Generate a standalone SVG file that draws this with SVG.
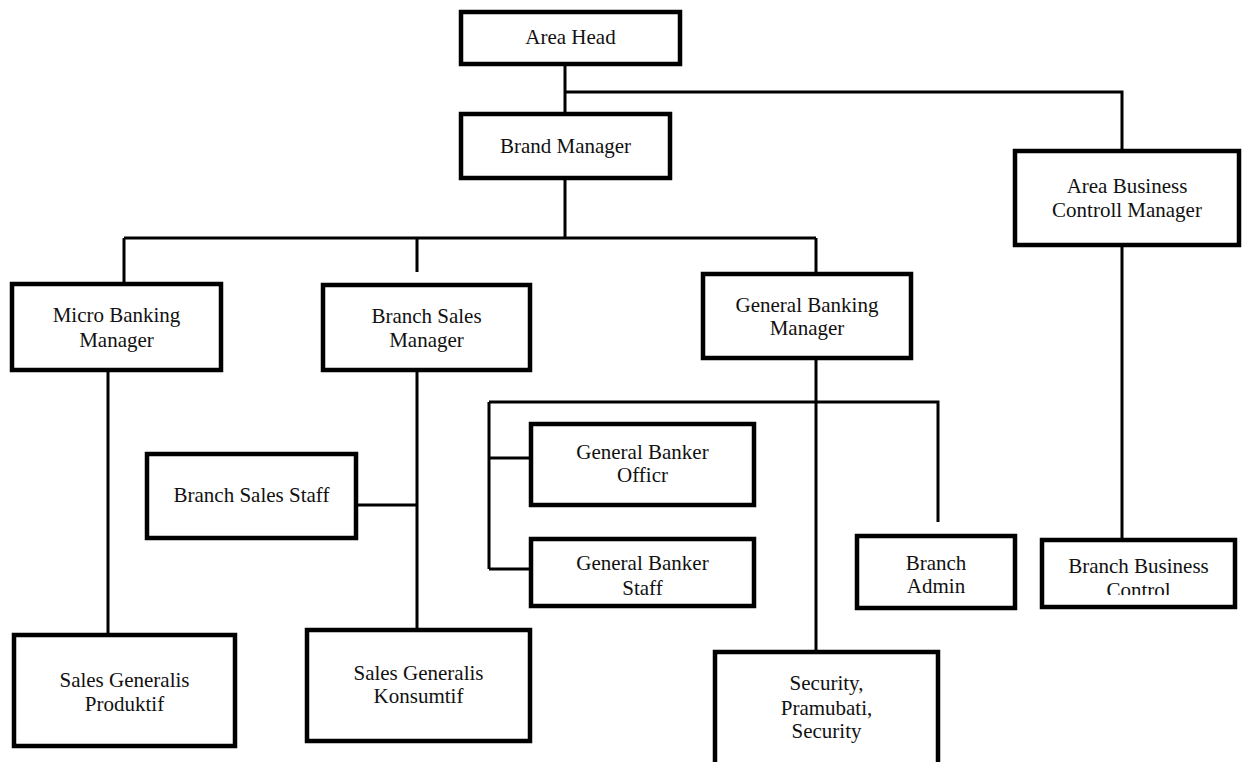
<svg xmlns="http://www.w3.org/2000/svg" width="1246" height="762" viewBox="0 0 1246 762">
<style>
.box{fill:#fff;stroke:#000;stroke-width:4.5}
.t{font-family:"Liberation Serif","Times New Roman",serif;font-size:21px;fill:#111;text-anchor:middle}
.c{stroke:#000;stroke-width:3;fill:none}
</style>
<defs>
<clipPath id="clipStaff"><rect x="531" y="539" width="223" height="56"/></clipPath>
<clipPath id="clipControl"><rect x="1042" y="540" width="193" height="55"/></clipPath>
</defs>
<rect width="1246" height="762" fill="#fff"/>
<g id="connectors">
<path class="c" d="M565 66V112M565 92H1122V149"/>
<path class="c" d="M565 180V238M124 238H816M124 238V282M417 238V272M816 238V272"/>
<path class="c" d="M108 372V633"/>
<path class="c" d="M417 372V628M358 505H417"/>
<path class="c" d="M816 360V650M489 402H938V522M489 402V569M489 458H529M489 569H529"/>
<path class="c" d="M1122 247V538"/>
</g>
<g id="area-head"><rect class="box" x="461" y="12" width="219" height="52"/><text class="t" x="570.5" y="44">Area Head</text></g>
<g id="brand-manager"><rect class="box" x="461" y="114" width="209" height="64"/><text class="t" x="565.5" y="153">Brand Manager</text></g>
<g id="area-business-controll-manager"><rect class="box" x="1015" y="151" width="224" height="94"/><text class="t" x="1127" y="193">Area Business</text><text class="t" x="1127" y="217">Controll Manager</text></g>
<g id="micro-banking-manager"><rect class="box" x="12" y="284" width="209" height="86"/><text class="t" x="116.5" y="322">Micro Banking</text><text class="t" x="116.5" y="347">Manager</text></g>
<g id="branch-sales-manager"><rect class="box" x="323" y="285" width="207" height="85"/><text class="t" x="426.5" y="323">Branch Sales</text><text class="t" x="426.5" y="347">Manager</text></g>
<g id="general-banking-manager"><rect class="box" x="703" y="274" width="208" height="84"/><text class="t" x="807" y="312">General Banking</text><text class="t" x="807" y="335">Manager</text></g>
<g id="branch-sales-staff"><rect class="box" x="147" y="454" width="209" height="84"/><text class="t" x="251.5" y="502">Branch Sales Staff</text></g>
<g id="general-banker-officr"><rect class="box" x="531" y="424" width="223" height="81"/><text class="t" x="642.5" y="459">General Banker</text><text class="t" x="642.5" y="482">Officr</text></g>
<g id="general-banker-staff"><rect class="box" x="531" y="539" width="223" height="67"/><g clip-path="url(#clipStaff)"><text class="t" x="642.5" y="570">General Banker</text><text class="t" x="642.5" y="595">Staff</text></g></g>
<g id="branch-admin"><rect class="box" x="857" y="536" width="158" height="72"/><text class="t" x="936" y="570">Branch</text><text class="t" x="936" y="593">Admin</text></g>
<g id="branch-business-control"><rect class="box" x="1042" y="540" width="193" height="67"/><g clip-path="url(#clipControl)"><text class="t" x="1138.5" y="573">Branch Business</text><text class="t" x="1138.5" y="597">Control</text></g></g>
<g id="sales-generalis-produktif"><rect class="box" x="14" y="635" width="221" height="111"/><text class="t" x="124.5" y="687">Sales Generalis</text><text class="t" x="124.5" y="711">Produktif</text></g>
<g id="sales-generalis-konsumtif"><rect class="box" x="307" y="630" width="223" height="111"/><text class="t" x="418.5" y="680">Sales Generalis</text><text class="t" x="418.5" y="703">Konsumtif</text></g>
<g id="security-pramubati"><rect class="box" x="715" y="652" width="223" height="130"/><text class="t" x="826.5" y="690">Security,</text><text class="t" x="826.5" y="715">Pramubati,</text><text class="t" x="826.5" y="738">Security</text></g>
</svg>
